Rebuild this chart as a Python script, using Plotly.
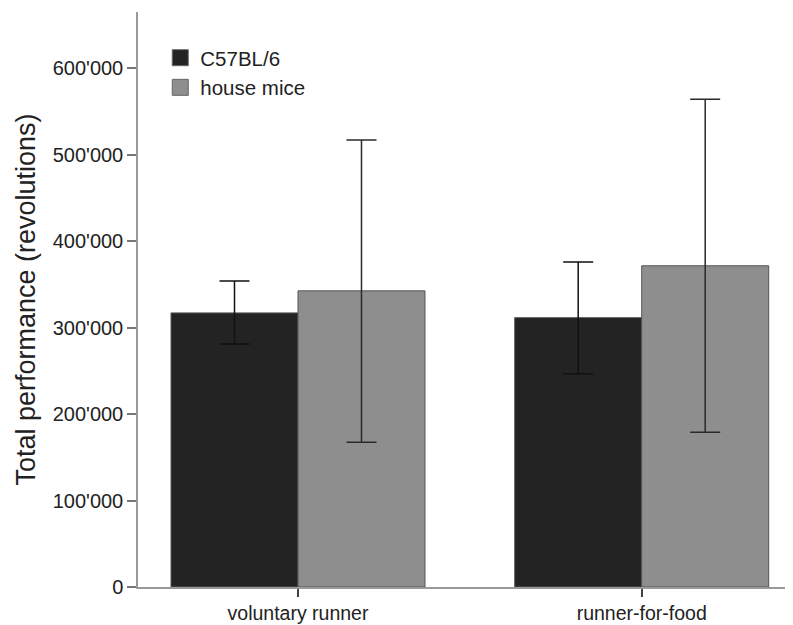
import plotly.graph_objects as go

categories = ["voluntary runner", "runner-for-food"]
series_names = ["C57BL/6", "house mice"]
series_colors = ["#232323", "#8e8e8e"]
c57_means = [317000, 311500]
c57_err_plus = [37000, 64500]
c57_err_minus = [36000, 65000]
house_means = [342500, 371500]
house_err_plus = [174500, 192500]
house_err_minus = [175000, 192500]
y_tick_vals = [0, 100000, 200000, 300000, 400000, 500000, 600000]
y_tick_text = ["0", "100'000", "200'000", "300'000", "400'000", "500'000", "600'000"]

FONT = "Liberation Sans, Arial, sans-serif"

fig = go.Figure()
fig.add_trace(go.Bar(
    name=series_names[0], x=categories, y=c57_means, showlegend=False,
    marker=dict(color=series_colors[0], line=dict(color="#555555", width=1)),
    error_y=dict(type="data", array=c57_err_plus, arrayminus=c57_err_minus,
                 color="#111111", thickness=1.5, width=15),
))
fig.add_trace(go.Bar(
    name=series_names[1], x=categories, y=house_means, showlegend=False,
    marker=dict(color=series_colors[1], line=dict(color="#555555", width=1)),
    error_y=dict(type="data", array=house_err_plus, arrayminus=house_err_minus,
                 color="#2a2a2a", thickness=1.5, width=15),
))
# legend-only entries with larger square swatches
for name, col in zip(series_names, series_colors):
    fig.add_trace(go.Scatter(
        x=[None], y=[None], mode="markers", name=name, hoverinfo="skip",
        marker=dict(symbol="square", size=16, color=col,
                    line=dict(color="#666666", width=1)),
    ))

# page body has an 8px margin, so the figure is 8px smaller on each axis
fig.update_layout(
    width=785, height=617,
    margin=dict(l=130, r=0, t=4, b=38),
    paper_bgcolor="white", plot_bgcolor="white",
    barmode="group", bargap=0.261, bargroupgap=0,
    font=dict(family=FONT, size=19, color="#222222"),
    showlegend=True,
    legend=dict(x=0.034, y=0.955, xanchor="left", yanchor="top",
                bgcolor="rgba(0,0,0,0)", font=dict(size=20.5),
                tracegroupgap=0, itemwidth=30),
    xaxis=dict(range=[-0.4655, 1.4402], showline=True, linecolor="#999999", linewidth=1.5,
               ticks="outside", ticklen=8, tickcolor="#444444", tickwidth=1.5,
               showgrid=False, zeroline=False, tickfont=dict(size=19.5)),
    yaxis=dict(range=[0, 665000], showline=True, linecolor="#999999", linewidth=1.5,
               ticks="outside", ticklen=9, tickcolor="#777777", tickwidth=1.5,
               tickvals=y_tick_vals, ticktext=y_tick_text,
               showgrid=False, zeroline=False, tickfont=dict(size=20),
               title=dict(text="Total performance (revolutions)", font=dict(size=27),
                          standoff=9)),
)

fig.write_html("out.html")
